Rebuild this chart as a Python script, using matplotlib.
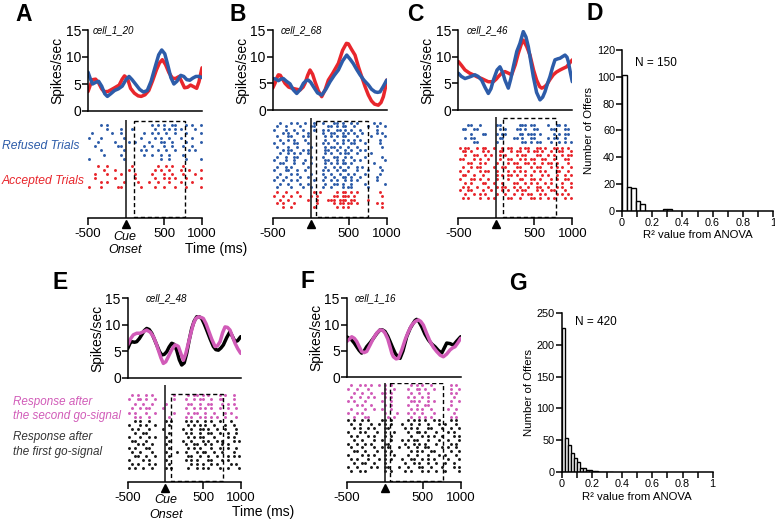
import numpy as np
import matplotlib
matplotlib.use('Agg')
import matplotlib.pyplot as plt
from matplotlib.patches import Rectangle

plt.rcParams['font.family'] = ['Liberation Sans', 'DejaVu Sans']

W, H = 775, 521
BLUE = '#2d5ca9'
RED = '#e8262c'
PINK = '#d15bb8'
INK = '#1a1a1a'
NCOL = 40  # raster time bins spanning -500..1000 ms

# ---- PSTH traces, time (ms) and rate (spikes/sec) ----
a_blue_t = [-500, -470, -440, -400, -360, -320, -280, -245, -200, -150, -100, -50, 0, 40, 80, 130, 180, 230,
            280, 330, 380, 430, 470, 510, 550, 590, 630, 670, 720, 760, 800, 840, 880, 920, 960, 1000]
a_blue_r = [7.2, 6.0, 5.0, 5.3, 5.5, 4.6, 3.2, 2.7, 3.2, 3.8, 4.1, 4.6, 5.8, 6.4, 5.8, 4.9, 4.0, 3.5,
            3.8, 5.5, 8.0, 10.4, 11.3, 10.6, 8.5, 6.2, 5.0, 5.5, 6.6, 6.4, 5.8, 5.7, 6.1, 6.4, 6.4, 6.2]
a_red_t = [-500, -470, -440, -400, -360, -320, -290, -240, -200, -150, -90, -50, -20, 20, 60, 110, 160, 200, 250,
           300, 350, 400, 440, 478, 520, 565, 610, 650, 700, 740, 770, 810, 850, 890, 930, 960, 1000]
a_red_r = [3.6, 4.8, 5.8, 5.9, 5.2, 4.1, 3.6, 3.6, 3.9, 4.3, 4.8, 5.9, 6.5, 6.0, 4.2, 3.3, 2.8, 2.7, 3.0,
           3.8, 5.6, 7.6, 8.9, 9.5, 8.6, 7.1, 6.1, 6.0, 6.4, 5.2, 4.3, 4.4, 4.8, 4.5, 4.2, 5.4, 8.0]

b_blue_t = [-500, -460, -425, -390, -360, -320, -272, -230, -184, -140, -96, -60, -31, 0, 35, 90, 145, 200,
            254, 310, 364, 420, 474, 520, 561, 605, 649, 700, 759, 800, 847, 880, 912, 950, 1000]
b_blue_r = [5.9, 5.8, 5.5, 5.8, 5.9, 5.4, 4.9, 3.8, 3.1, 3.8, 5.0, 5.5, 5.6, 5.2, 4.4, 3.2, 2.8, 3.9,
            5.3, 6.5, 7.5, 9.2, 10.3, 9.5, 8.7, 7.6, 6.6, 5.6, 4.7, 3.9, 3.4, 3.3, 3.4, 4.3, 5.6]
b_red_t = [-500, -470, -440, -425, -400, -338, -290, -250, -190, -140, -100, -75, -40, -9, 25, 57, 100, 145,
           190, 232, 290, 364, 420, 470, 496, 540, 583, 630, 671, 715, 759, 800, 840, 890, 925, 956, 980, 1000]
b_red_r = [4.1, 5.0, 6.2, 6.6, 6.5, 5.0, 4.3, 4.1, 3.9, 3.75, 4.3, 5.0, 6.5, 7.5, 6.7, 5.3, 3.6, 2.5,
           3.8, 5.6, 6.9, 8.75, 11.2, 12.5, 12.4, 11.3, 10.3, 8.0, 6.25, 4.4, 2.8, 1.7, 1.1, 0.9, 1.4, 2.5, 4.0, 5.6]

c_blue_t = [-500, -460, -412, -350, -281, -240, -193, -150, -105, -70, -39, 10, 48, 85, 114, 158, 190, 224,
            270, 311, 355, 390, 421, 455, 487, 530, 575, 610, 640, 675, 706, 740, 772, 810, 838, 870, 904,
            930, 947, 975, 1000]
c_blue_r = [6.9, 6.3, 5.9, 6.2, 6.6, 6.3, 5.6, 4.3, 3.1, 4.0, 5.6, 7.5, 8.1, 7.0, 5.6, 4.1, 5.8, 8.1,
            11.0, 12.5, 14.7, 13.7, 11.9, 9.0, 6.25, 3.3, 1.9, 2.4, 3.4, 5.0, 6.25, 8.0, 9.4, 9.6, 9.7, 10.0, 10.3,
            9.9, 9.1, 7.0, 5.3]
c_red_t = [-500, -460, -412, -350, -303, -250, -193, -150, -105, -39, 0, 26, 70, 114, 160, 202, 250, 289, 330,
           355, 400, 443, 490, 531, 570, 597, 630, 662, 705, 750, 790, 838, 880, 925, 960, 1000]
c_red_r = [9.1, 8.4, 7.5, 6.9, 6.6, 6.2, 5.9, 5.6, 5.3, 5.3, 5.8, 6.25, 6.9, 7.2, 6.9, 6.6, 8.5, 10.6, 12.4,
           13.1, 11.9, 10.3, 7.5, 5.6, 4.4, 4.1, 4.3, 4.7, 5.7, 6.6, 7.1, 7.5, 7.8, 8.1, 8.7, 9.4]

e_black_t = [-500, -470, -447, -410, -381, -345, -314, -280, -248, -215, -181, -150, -115, -80, -49, -15, 18, 50,
             84, 117, 150, 185, 217, 250, 283, 315, 350, 383, 416, 450, 482, 515, 549, 595, 637, 670, 704, 737,
             770, 815, 858, 890, 925, 960, 1000]
e_black_r = [5.5, 6.5, 6.8, 6.7, 6.8, 7.4, 8.1, 8.9, 9.3, 9.1, 8.4, 7.4, 6.2, 5.0, 4.3, 4.4, 4.9, 5.8,
             6.5, 6.3, 5.2, 3.4, 2.4, 2.8, 4.6, 7.0, 9.3, 10.7, 11.5, 11.5, 11.2, 10.2, 9.0, 7.3, 5.9, 5.3, 5.2, 5.6,
             6.2, 7.6, 8.7, 7.8, 6.8, 7.0, 7.75]
e_pink_t = [-500, -460, -425, -380, -336, -290, -248, -200, -159, -120, -93, -60, -27, 5, 40, 85, 128, 150, 173,
            205, 239, 270, 305, 340, 372, 405, 438, 470, 504, 540, 571, 615, 659, 690, 726, 760, 792, 825, 858,
            890, 925, 960, 1000]
e_pink_r = [6.2, 7.4, 8.1, 8.4, 8.4, 8.7, 9.0, 8.6, 7.75, 6.4, 5.2, 3.8, 2.7, 3.0, 4.0, 5.3, 6.2, 6.1, 5.9,
            4.6, 3.3, 4.5, 6.5, 8.5, 10.2, 11.2, 11.5, 11.4, 11.2, 10.2, 9.0, 7.3, 5.9, 6.0, 6.8, 8.5, 9.6, 9.5, 9.0,
            7.8, 6.5, 5.5, 4.6]

f_black_t = [-500, -470, -434, -400, -368, -335, -303, -270, -237, -190, -149, -105, -61, -30, 4, 40, 70, 105,
             136, 170, 202, 240, 289, 335, 377, 400, 421, 450, 487, 530, 575, 620, 662, 705, 750, 785, 816, 860,
             904, 950, 1000]
f_black_r = [7.7, 7.4, 7.1, 6.5, 5.8, 5.1, 4.6, 5.0, 5.8, 6.6, 7.4, 8.3, 9.0, 9.0, 8.7, 7.8, 6.8, 5.6,
             4.6, 3.9, 3.6, 5.0, 7.7, 9.3, 10.3, 10.8, 11.0, 10.6, 9.6, 8.2, 7.1, 6.3, 5.8, 5.1, 4.6, 5.6, 6.5, 6.4,
             6.1, 6.9, 7.7]
f_pink_t = [-500, -460, -434, -400, -368, -335, -303, -270, -237, -190, -149, -105, -61, -25, 4, 40, 70, 95,
            114, 150, 180, 225, 268, 310, 355, 400, 443, 475, 509, 550, 597, 640, 684, 730, 772, 815, 860, 895,
            925, 960, 1000]
f_pink_r = [6.8, 7.3, 7.7, 7.4, 6.8, 5.8, 4.9, 4.7, 4.9, 6.2, 7.4, 8.4, 9.0, 8.9, 8.4, 7.3, 5.8, 4.5,
            3.9, 3.5, 3.6, 5.2, 7.1, 8.6, 9.9, 10.6, 10.9, 10.6, 9.9, 8.4, 6.8, 5.7, 4.9, 4.2, 3.9, 4.4, 5.2, 5.6,
            5.8, 6.5, 7.4]

# ---- rasters: one string per trial, 'o' = spike in that time bin ----
a_refused = [
    "....o.o..." ".........." "..o.o.o..o" "o...o.o..o",
    "......o..." ".o...o...." "...o..o.o." "o.o....o..",
    ".o......o." ".o.......o" "..o.o..o.." "o...o....o",
    "o...o....." "..o.....o." "...o.o..o." "..o...o...",
    "...o.....o" "....o.o..." ".o...oo..o" "....o....o",
    "..o......." "oo.......o" "..o...o..o" "...o..o...",
    "....o....." "..o.....o." "o...o..o.." "o....o.o..",
    ".....o...." ".o.......o" "..o..o..o." "...o......",
    "o........." "..o......." ".....o..o." "....o....o",
]
a_accepted = [
    "...o..o..." ".....o...." "....o..o.o" "...o......",
    ".....o...o" "....o....." "...o.o..o." "..o..o...o",
    "..o...o..." ".o....o..." "..o...o..o" "...o...o..",
    "..o......o" "......o..." "...o..o.o." "o...o....o",
    "....o.o..." "..o....o.." ".o..o...o." "..o...o...",
    "o...o....." "oo......o." "...o..o..." "o...o....o",
]
b_refused = [
    "..o...o.o." ".o..o..o.." ".oo.o..o.o" ".....o.o..",
    ".o..o....o" "...oo....o" "o.o.oo..o." "...o..o..o",
    "o...o..o.." "o...o..o.o" "..oo.o.o.." "o.....o...",
    "...o.o..o." "..o....o.." "oo..o.o.o." ".o....o.o.",
    ".o...oo..." "o.o.....o." "o.o.oo...o" "....o....o",
    "..o..o.o.." ".o......o." ".o..o.o.o." "o......o..",
    "o..o...oo." "..o....o.o" "..o.o..oo." "..o....o..",
    ".o...o..o." "...o....o." "oo.o..o..o" "........o.",
    "...o.oo..." "o.o.....oo" "..o..o.o.." "o.o.......",
    "..o..o.o.o" "..o.....o." "o..o.oo..o" "....o.....",
    ".o..o..oo." "...o...o.." ".oo..o.o.." "..o.....o.",
    "o...o..o.." ".o......oo" "..o.o...o." "o........o",
    "..oo...o.." "o..o....o." "o.o.oo.o.." ".....o....",
    ".o..o.o..." "..o.....o." ".o.o..o..o" ".o.....o..",
    "o...oo..o." ".o.....o.o" "..o.oo...o" "...o....o.",
    "..o...o.o." "...o...o.." "o..o..o.o." "..o....o..",
    ".o..o....o" "..o.....o." ".o..oo.o.." "o.....o...",
    "o..o..o.o." "....o..o.." "o.o..o.o.o" "......o...",
    "..o..o...o" "..o.....o." ".oo.o..o.." "..o......o",
    ".o....o..." "o..o...o.." "o...o.oo.." "...o......",
]
b_accepted = [
    ".o..o...o." "....o.o..." "..o.oo.o.o" ".......o..",
    "o..o..o..o" "...o.o...." ".oo.ooo.o." "........o.",
    "..o..o...." "..o..o...o" "oo.ooo.oo." "...o......",
    ".o.o...o.." ".....o...." ".o.oo.oo.o" "......o.o.",
    "...o..o..." "....o....." "..o.o.o..." "........o.",
]
c_refused = [
    "...oo..o.." "...oo....." ".ooo.oo..." ".o..oo.o..",
    ".oo..oo..." "....o.o..." "oo.o..oo.." "..oo...oo.",
    "....o...oo" "...o.oo..." ".oo.ooo.o." "...o.o.oo.",
    "..o.oo...." "....oo...o" "o.o..oo..." ".o.oo..o..",
    ".....oo..." "...o......" "..oo.o.oo." "..o..o.o.o",
]
c_accepted = [
    "o.oo..o.oo" "..o..o.oo." ".o.oo..oo." "o..oo.o.o.",
    ".oo.o...o." "o...oo..o." "oo..o.oo.o" "..o..oo..o",
    "..o..oo..o" ".o..o.o..." "o.oo...oo." ".o.o..o.oo",
    "oo...o.o.." "o...o..oo." ".o.o.oo..o" "o..o...oo.",
    "...oo..o.o" "...o...o.o" "o..oo.o..o" ".oo.o...o.",
    ".o..o.oo.." "..o..oo..." "oo...o.oo." "..o.o.o..o",
    "o..o...o.o" "o..o...o.o" ".o.o..o.o." "o...oo..o.",
    ".oo..o..o." "...o.o.oo." "o..o.o...o" ".o..o..o.o",
    "o...oo.o.." "o..o...o.." ".oo..oo.o." "..o.o..oo.",
    "..o.o...oo" "..o..o...o" "o..o.o.o.." "o.o...o..o",
    ".o.o..o..." "o..o.oo..o" ".o..o..oo." ".o..o.o..o",
    "o..oo...o." ".o...o.o.." "o.oo...o.o" "..oo...o..",
    "..o..o.o.o" "...o..o..o" "..o.oo..o." "o...o.o.o.",
    ".o.o...o.." "o.o....oo." ".o...oo.o." ".o.o...o.o",
]
e_second = [
    ".o.o..o.o." "......o..." ".o.oo.o.o." "..o.o..o..",
    "o..oo.o..o" "......o..." "o..o.oo..o" "..oo...o..",
    "..o..o..o." "...o......" ".oo..o..oo" "...o.o.o..",
    ".o..o.oo.." "..o......." "o..o.o.o.o" "..o..o..o.",
    "o.o...o..o" "......o..." ".o.oo..o.." "o...o.o...",
    "..o.o..o.." "....o....." "o.o..o.o.o" ".o..o...o.",
]
e_first = [
    "..o.o..o.." "...o.o...." "o.o.o..o.o" "..o...o...",
    "o...o.o..o" "....o....." ".o.o.o.o.." "o...o..o..",
    ".o.o...o.." "..o......o" "..o..oo.o." ".o..o...o.",
    "..o..oo..." "....o....." "o.o..o..oo" "..o..o..o.",
    "o...o..o.o" "...o......" ".o.o.oo..." "o....o.o..",
    ".oo...o..." "....o....o" "..o...o.o." ".o.o...o.o",
    "...o.o..o." "...o......" "o..oo..o.o" "...o.o....",
    "o.o...oo.." "....o....." ".o.o.o...o" "..o..o..o.",
    ".o..o...o." "...o...o.." "o...o.oo.." "o..o...o..",
    "..oo..o..o" "....o....." ".oo..o..o." ".o...o.o.o",
    "o....o.o.." "...o......" "o.o.o...oo" "...o.o....",
    ".o.o...o.o" "....o....." "..o.o.o..o" ".o....o.o.",
    "o.o..o..o." "...o.o...." ".o..o.o.o." "..o..o...o",
]
f_second = [
    ".o..o.o.o." ".o.o.o...." "..o.o.o..o" "......o.o.",
    "o..o...o.." "...o..o..." ".o..oo.o.." "o.....o..o",
    "..o..o..o." "..oo.o...." "..o..o..o." "......o.o.",
    ".o..o..o.o" "...o.o...." ".o.o..o.o." ".......o..",
    "o.o...o..." "..o..o...." "..oo.o..o." "o.....o..o",
    "...o.o..o." "...o.o...." ".o..o..oo." "......o...",
    ".o....o..o" "..o..o...." "..o.o.o..o" ".....o..o.",
    "o..o.o...." "...o...o.." ".o.o..o..." "o......o..",
    "..o...oo.." "....o.o..." "..o..o.o.o" "......o.o.",
]
f_first = [
    "o.o..o.o.." "..oo.o...." ".o.o.o.o.." "o.o...o.o.",
    ".o..o...o." ".o.o.o...o" "..o..o..o." "..o.o...o.",
    "..o.o..o.o" "...oo....." "o.o.o...oo" "...o..o..o",
    "o...o.o..." "o..o..o..." ".o..oo.o.." ".o...o.o..",
    ".o.o...o.o" "...o.o...." "..o...o.o." "o..o...o.o",
    "..o..o...o" "..o..o...o" ".o.oo...o." "..o..o...o",
    "o..o..o.o." "...oo....." "o..o.o.o.." ".o....o.o.",
    ".o...o...o" "..o.o...o." ".o..o..oo." "...o.o..o.",
    "..oo..o..." "o..o.o...." "..o.o.o..o" "o.....o..o",
    "o....o.o.o" "...o..o..." ".o..o...o." "..o.o...o.",
    ".o.o...o.." ".o.o.o...o" "..oo..o.o." "o....o...o",
    "..o..oo..o" "...o......" "o..o.o..o." ".o..o..o..",
    "o..o....o." "o..oo...o." ".o...oo..o" "...o...o.o",
    ".o..o.o..." "...o.o...." "o.o...o.o." ".o..o....o",
]

# ---- histograms of R^2 ----
d_counts = [101, 18, 17, 7, 5, 0, 0, 0, 0, 1, 1]
d_binw = 0.03
g_counts = [226, 53, 43, 30, 23, 16, 7, 6, 4, 3, 2, 2, 1, 1, 1, 1, 1]
g_binw = 0.02

fig = plt.figure(figsize=(W / 100, H / 100), dpi=100)


def box(l, t, r, b):
    return fig.add_axes([l / W, 1 - b / H, (r - l) / W, (b - t) / H])


def ftext(x, y, s, **kw):
    kw.setdefault('va', 'center')
    fig.text(x / W, 1 - y / H, s, **kw)


def psth(l, t, r, b, curves, cell, cell_x):
    ax = box(l, t, r, b)
    for tt, rr, col in curves:
        ax.plot(tt, rr, color=col, lw=2.5, solid_joinstyle='round', solid_capstyle='round')
    ax.set_xlim(-500, 1000)
    ax.set_ylim(0, 15)
    ax.set_yticks([0, 5, 10, 15])
    ax.set_xticks([])
    for s in ['top', 'right']:
        ax.spines[s].set_visible(False)
    for s in ['left', 'bottom']:
        ax.spines[s].set_linewidth(1.1)
    ax.tick_params(axis='y', direction='out', length=4, width=1.1, labelsize=10, pad=1)
    ax.set_ylabel('Spikes/sec', fontsize=10, labelpad=1)
    ftext(cell_x, t, cell, style='italic', fontsize=7)
    return ax


def raster(l, t, r, b, groups, win, win_top):
    ax = box(l, t, r, b)
    ax.set_xlim(-500, 1000)
    ax.set_ylim(b, t)
    for rows, y0, dy, col in groups:
        for k, row in enumerate(rows):
            times = [-500 + (i + 0.5) * 1500 / NCOL for i, ch in enumerate(row) if ch == 'o']
            ax.scatter(times, [y0 + k * dy] * len(times), s=4.5, c=col, linewidths=0)
    ax.axvline(0, color='#222222', lw=1.2)
    ax.add_patch(Rectangle((win[0], win_top), win[1] - win[0], b - 1.3 - win_top,
                           fill=False, ec='black', lw=1.0, ls=(0, (3, 2))))
    for s in ['top', 'right', 'left']:
        ax.spines[s].set_visible(False)
    ax.spines['bottom'].set_linewidth(1.1)
    ax.set_yticks([])
    ax.set_xticks([-500, 500, 1000])
    ax.set_xticklabels(['-500', '500', '1000'])
    ax.tick_params(axis='x', direction='out', length=5, width=1.1, labelsize=9.5, pad=2)
    ax.plot([0], [b + 6], marker='^', ms=6, color='black', clip_on=False)
    return ax


def hist(l, t, r, b, counts, binw, ymax, ystep, label_n, n_xy):
    ax = box(l, t, r, b)
    lefts = np.arange(len(counts)) * binw
    ax.bar(lefts, counts, width=binw, align='edge', fc='white', ec='black', lw=1.0)
    ax.set_xlim(0, 1)
    ax.set_ylim(0, ymax)
    ax.set_yticks(np.arange(0, ymax + 1, ystep))
    ax.set_xticks([0, 0.2, 0.4, 0.6, 0.8, 1.0])
    ax.set_xticklabels(['0', '0.2', '0.4', '0.6', '0.8', '1'])
    ax.set_xticks(np.arange(0.1, 1.0, 0.2), minor=True)
    for s in ['top', 'right']:
        ax.spines[s].set_visible(False)
    for s in ['left', 'bottom']:
        ax.spines[s].set_linewidth(1.1)
    ax.tick_params(which='both', direction='out', length=4, width=1.1, labelsize=7.8, pad=1)
    ax.set_ylabel('Number of Offers', fontsize=8.2, labelpad=2)
    ax.set_xlabel('R\u00b2 value from ANOVA', fontsize=8.2, labelpad=2)
    ftext(n_xy[0], n_xy[1], label_n, fontsize=8.5)
    return ax


# ---- A ----
psth(88, 30, 202, 111, [(a_red_t, a_red_r, RED), (a_blue_t, a_blue_r, BLUE)], 'cell_1_20', 93)
raster(88, 120, 202, 218, [(a_refused, 124.7, 4.3, BLUE), (a_accepted, 165.7, 4.2, RED)],
       (100, 780), 120.7)
ftext(2, 146, 'Refused Trials', color=BLUE, style='italic', fontsize=8.7)
ftext(2, 181, 'Accepted Trials', color=RED, style='italic', fontsize=8.7)
ftext(125, 237, 'Cue', style='italic', fontsize=9, ha='center')
ftext(125, 250, 'Onset', style='italic', fontsize=9, ha='center')
ftext(185, 249, 'Time (ms)', fontsize=10)

# ---- B ----
psth(272.7, 30, 386.7, 110, [(b_red_t, b_red_r, RED), (b_blue_t, b_blue_r, BLUE)], 'cell_2_68', 280.7)
raster(272.7, 118.3, 386.7, 218, [(b_refused, 123, 3.37, BLUE), (b_accepted, 192, 3.75, RED)],
       (75, 760), 120.7)

# ---- C ----
psth(458.3, 30, 572.3, 110, [(c_red_t, c_red_r, RED), (c_blue_t, c_blue_r, BLUE)], 'cell_2_46', 467)
raster(458.3, 116.7, 572.3, 218, [(c_refused, 125, 4.25, BLUE), (c_accepted, 147.5, 3.9, RED)],
       (85, 790), 118.3)

# ---- D ----
hist(622, 50, 773, 210.7, d_counts, d_binw, 120, 20, 'N = 150', (635, 63))

# ---- E ----
psth(127.7, 298.3, 240.7, 377.7, [(e_black_t, e_black_r, 'black'), (e_pink_t, e_pink_r, PINK)],
     'cell_2_48', 145.7)
raster(127.7, 385, 240.7, 482, [(e_second, 395, 4.4, PINK), (e_first, 421, 3.9, INK)],
       (70, 760), 393.5)
ftext(13, 402, 'Response after', color=PINK, style='italic', fontsize=8.4)
ftext(13, 416, 'the second go-signal', color=PINK, style='italic', fontsize=8.4)
ftext(13, 437, 'Response after', color='#333333', style='italic', fontsize=8.4)
ftext(13, 452, 'the first go-signal', color='#333333', style='italic', fontsize=8.4)
ftext(166, 500, 'Cue', style='italic', fontsize=9, ha='center')
ftext(166, 515, 'Onset', style='italic', fontsize=9, ha='center')
ftext(232, 512, 'Time (ms)', fontsize=10)

# ---- F ----
psth(346.7, 298.3, 460.7, 377.3, [(f_black_t, f_black_r, 'black'), (f_pink_t, f_pink_r, PINK)],
     'cell_1_16', 355)
raster(346.7, 382.7, 460.7, 482.3, [(f_second, 385, 4.0, PINK), (f_first, 420.5, 3.85, INK)],
       (70, 765), 383.3)

# ---- G ----
hist(561.7, 312.7, 712.7, 472.3, g_counts, g_binw, 250, 50, 'N = 420', (575, 322))

# panel letters
for letter, x, y in [('A', 23.5, 14.5), ('B', 237.5, 14.5), ('C', 415.5, 14.5), ('D', 595, 13),
                     ('E', 60.5, 282.5), ('F', 308, 282), ('G', 518, 284)]:
    ftext(x, y, letter, fontsize=16.5, fontweight='bold', ha='center')

fig.savefig('out.png', dpi=100)
